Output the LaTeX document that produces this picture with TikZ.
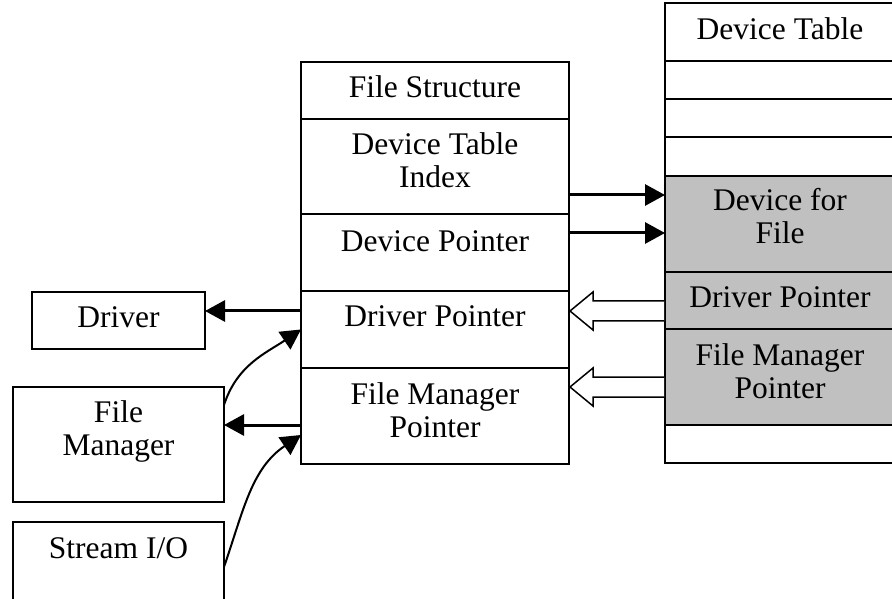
\documentclass[tikz,border=0pt]{standalone}
\usepackage{fontspec}
\setmainfont{Liberation Serif}
\usetikzlibrary{arrows.meta,positioning}
\definecolor{cellgray}{RGB}{192,192,192}
\tikzset{
  cell/.style={rectangle,draw,line width=2pt,fill=white,outer sep=0pt,inner sep=3pt,
               align=center,minimum width=268pt,text height=22pt,
               font=\fontsize{31.5}{33}\selectfont},
  tcell/.style={cell,minimum width=230pt},
  gcell/.style={tcell,fill=cellgray},
  ext/.style={cell},
  fl/.style={-{Triangle[length=20pt,width=21pt]},line width=3pt},
  cfl/.style={-{Triangle[length=20pt,width=21pt]},line width=2pt},
  hol/.style={draw,fill=white,line width=1.5pt,line join=miter},
}

\begin{document}
\begin{tikzpicture}[x=1pt,y=1pt]
  \useasboundingbox (0,0) rectangle (892,598);
  % file structure
  \node[cell,anchor=north west,minimum height=57pt,text depth=7pt] (fs) at (301,536) {File Structure};
  \node[cell,below=0pt of fs,minimum height=95pt,text height=43pt,text depth=0pt] (dti) {Device Table\\Index};
  \node[cell,below=0pt of dti,minimum height=77pt,text depth=23pt] (dp) {Device Pointer};
  \node[cell,below=0pt of dp,minimum height=77pt,text depth=27pt] (drp) {Driver Pointer};
  \node[cell,below=0pt of drp,minimum height=96pt,text height=42pt,text depth=0pt] (fmp) {File Manager\\Pointer};
  % device table
  \node[tcell,anchor=north west,minimum height=58pt,text depth=6pt] (dt) at (665,595) {Device Table};
  \node[tcell,below=0pt of dt,minimum height=38pt] (e1) {};
  \node[tcell,below=0pt of e1,minimum height=38pt] (e2) {};
  \node[tcell,below=0pt of e2,minimum height=39pt] (e3) {};
  \node[gcell,below=0pt of e3,minimum height=96pt,text height=40pt,text depth=0pt] (dff) {Device for\\File};
  \node[gcell,below=0pt of dff,minimum height=57pt,text depth=7pt] (tdrp) {Driver Pointer};
  \node[gcell,below=0pt of tdrp,minimum height=96pt,text height=42pt,text depth=0pt] (tfmp) {File Manager\\Pointer};
  \node[tcell,below=0pt of tfmp,minimum height=38pt] (e4) {};
  % modules
  \node[ext,anchor=north west,minimum width=173pt,minimum height=57pt,text depth=7pt] (drv) at (32,306) {Driver};
  \node[ext,anchor=north west,minimum width=211pt,minimum height=115pt,text height=21pt,text depth=0pt] (fm) at (13,211) {File\\Manager};
  \node[ext,anchor=north west,minimum width=211pt,minimum height=98pt,text depth=48pt] (sio) at (13,76) {Stream I/O};

  \draw[fl] ([yshift=-28.5pt]dti.east) -- ([yshift=-28.5pt]dti.east -| dff.west);
  \draw[fl] ([yshift=19.5pt]dp.east) -- ([yshift=19.5pt]dp.east -| dff.west);
  \draw[hol] ([xshift=-1pt,yshift=-10.5pt]tdrp.west) ++(0,10) -- ++(-71,0) -- ++(0,9)
    -- ++(-23,-19) -- ++(23,-19) -- ++(0,9) -- ++(71,0);
  \draw[hol] ([xshift=-1pt,yshift=-10pt]tfmp.west) ++(0,10) -- ++(-71,0) -- ++(0,9)
    -- ++(-23,-19) -- ++(23,-19) -- ++(0,9) -- ++(71,0);
  \draw[fl] ([yshift=18.5pt]drp.west) -- ([yshift=18.5pt]drp.west -| drv.east);
  \draw[fl] ([yshift=-9pt]fmp.west) -- ([yshift=-9pt]fmp.west -| fm.east);
  \draw[cfl] ([yshift=-18pt]fm.north east) to[out=72,in=214] (drp.west);
  \draw[cfl] ([yshift=-45pt]sio.north east) to[out=71,in=214] ([yshift=-19pt]fmp.west);
\end{tikzpicture}
\end{document}
